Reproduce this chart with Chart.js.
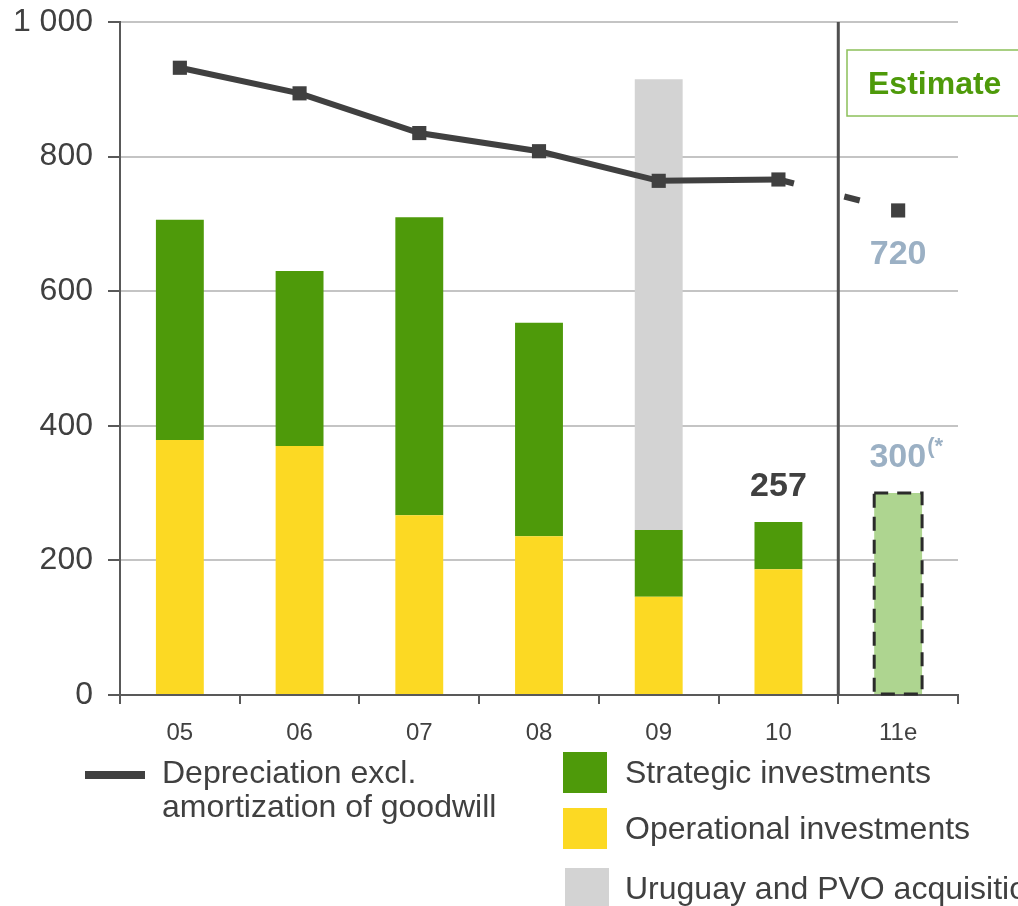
<!DOCTYPE html>
<html>
<head>
<meta charset="utf-8">
<script src="https://cdn.jsdelivr.net/npm/chart.js"></script>
<style>
  html, body { margin: 0; padding: 0; background: #fff; overflow: hidden; }
  #wrap { position: relative; width: 1018px; height: 906px; overflow: hidden;
          font-family: "Liberation Sans", Arial, sans-serif; color: #404040; }
  canvas { position: absolute; left: 0; top: 0; }
  .lg { position: absolute; font-size: 32px; line-height: 34px; white-space: nowrap; }
  .sw { position: absolute; width: 44px; height: 41px; }
</style>
</head>
<body>
<div id="wrap">
  <canvas id="capex" width="1018" height="906"></canvas>
  <div class="sw" style="left:85px;top:771px;width:60px;height:8px;background:#404040"></div>
  <div class="lg" style="left:162px;top:755px">Depreciation excl.<br>amortization of goodwill</div>
  <div class="sw" style="left:563px;top:752px;background:#4E9A0A"></div>
  <div class="lg" style="left:625px;top:755px">Strategic investments</div>
  <div class="sw" style="left:563px;top:808px;background:#FCD923"></div>
  <div class="lg" style="left:625px;top:811px">Operational investments</div>
  <div class="sw" style="left:565px;top:868px;height:38px;background:#D3D3D3"></div>
  <div class="lg" style="left:625px;top:871px">Uruguay and PVO acquisition</div>
</div>
<script>
var years = ['05', '06', '07', '08', '09', '10', '11e'];
var operational = [379, 370, 267, 236, 146, 187, null];
var strategic = [327, 260, 443, 317, 99, 70, null];
var acquisition = [null, null, null, null, 670, null, null];
var estimate = [null, null, null, null, null, null, 300];
var depreciation = [932, 894, 835, 808, 764, 766, 720];
var yTicks = [0, 200, 400, 600, 800, 1000];

var FONT = '"Liberation Sans", Arial, sans-serif';

// separator, estimate box, dashed outline and value labels
var extras = {
    id: 'extras',
    beforeDatasetsDraw: function(chart) {
        var c = chart.ctx, x = chart.scales.x, a = chart.chartArea;
        var sx = (x.getPixelForValue(5) + x.getPixelForValue(6)) / 2;
        c.save();
        c.strokeStyle = '#505050';
        c.lineWidth = 3;
        c.beginPath();
        c.moveTo(sx, a.top);
        c.lineTo(sx, a.bottom);
        c.stroke();
        c.restore();
    },
    afterDatasetsDraw: function(chart) {
        var c = chart.ctx, x = chart.scales.x, y = chart.scales.y;
        c.save();
        // dashed outline of the estimated bar
        var bar = chart.getDatasetMeta(3).data[6];
        c.strokeStyle = '#2b2b2b';
        c.lineWidth = 3;
        c.setLineDash([14, 9]);
        c.strokeRect(bar.x - bar.width / 2, bar.y, bar.width, bar.base - bar.y);
        c.setLineDash([]);

        // estimate box
        c.strokeStyle = '#8CC05A';
        c.lineWidth = 1.5;
        c.strokeRect(847, 50, 200, 66);
        c.fillStyle = '#4E9A0A';
        c.font = 'bold 32px ' + FONT;
        c.textBaseline = 'middle';
        c.textAlign = 'left';
        c.fillText('Estimate', 868, 85);

        // value labels
        c.textAlign = 'center';
        c.fillStyle = '#404040';
        c.font = 'bold 34px ' + FONT;
        c.fillText(String(operational[5] + strategic[5]), x.getPixelForValue(5), y.getPixelForValue(257) - 35);

        c.fillStyle = '#9BB0C4';
        c.fillText(String(depreciation[6]), x.getPixelForValue(6), y.getPixelForValue(depreciation[6]) + 44);

        var px = x.getPixelForValue(6), py = y.getPixelForValue(estimate[6]) - 35;
        c.textAlign = 'right';
        c.fillText(String(estimate[6]), px + 28, py);
        c.font = 'bold 22px ' + FONT;
        c.textAlign = 'left';
        c.fillText('(*', px + 29, py - 11);
        c.restore();
    }
};

new Chart(document.getElementById('capex').getContext('2d'), {
    type: 'bar',
    data: {
        labels: years,
        datasets: [{
            type: 'line',
            label: 'Depreciation excl. amortization of goodwill',
            data: depreciation,
            borderColor: '#404040',
            backgroundColor: '#404040',
            borderWidth: 6,
            pointStyle: 'rect',
            pointRadius: 10,
            pointBackgroundColor: '#404040',
            pointBorderWidth: 0,
            tension: 0,
            order: 0,
            segment: {
                borderDash: function(ctx) { return ctx.p1DataIndex === 6 ? [16, 52] : undefined; }
            }
        }, {
            label: 'Operational investments',
            data: operational,
            backgroundColor: '#FCD923',
            stack: 'capex',
            order: 1
        }, {
            label: 'Strategic investments',
            data: strategic,
            backgroundColor: '#4E9A0A',
            stack: 'capex',
            order: 1
        }, {
            label: 'Estimate',
            data: estimate,
            backgroundColor: '#AED590',
            stack: 'capex',
            order: 1
        }, {
            label: 'Uruguay and PVO acquisition',
            data: acquisition,
            backgroundColor: '#D3D3D3',
            stack: 'capex',
            order: 1
        }]
    },
    options: {
        responsive: false,
        animation: false,
        layout: { padding: { top: 22, right: 60, left: 0, bottom: 0 } },
        datasets: {
            bar: { categoryPercentage: 1, barPercentage: 0.4 }
        },
        plugins: {
            legend: { display: false },
            tooltip: { enabled: false }
        },
        scales: {
            x: {
                stacked: true,
                afterFit: function(s) { s.height = 211; },
                grid: {
                    offset: true,
                    drawOnChartArea: false,
                    tickLength: 9,
                    tickColor: '#595959',
                    lineWidth: 2
                },
                border: { color: '#595959', width: 2 },
                ticks: {
                    color: '#404040',
                    padding: 15,
                    font: { family: FONT, size: 24 }
                }
            },
            y: {
                stacked: true,
                min: 0,
                max: 1000,
                afterFit: function(s) {
                    s.width = 120;
                    s.paddingTop = 0;
                    s.paddingBottom = 0;
                },
                afterBuildTicks: function(s) { s.ticks = yTicks.map(function(v) { return { value: v }; }); },
                grid: {
                    color: '#C4C4C4',
                    lineWidth: 2,
                    tickLength: 12,
                    tickColor: '#595959'
                },
                border: { color: '#595959', width: 2 },
                ticks: {
                    color: '#404040',
                    padding: 15,
                    font: { family: FONT, size: 32 },
                    callback: function(v) { return v === 1000 ? '1 000' : v; }
                }
            }
        }
    },
    plugins: [extras]
});
</script>
</body>
</html>
